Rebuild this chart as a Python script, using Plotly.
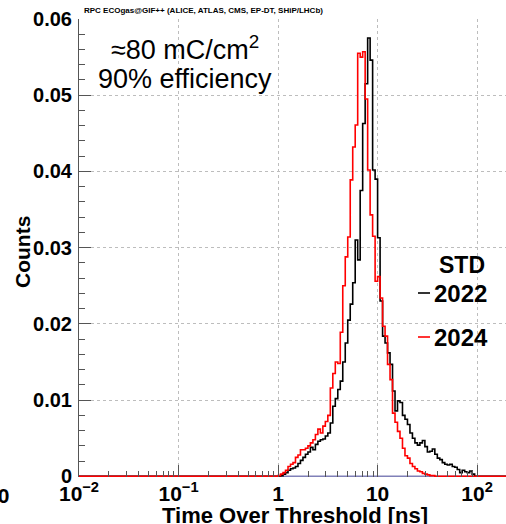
import numpy as np
import plotly.graph_objects as go

# ---- data ----
n_bins = 80
bin_edges = np.logspace(0, 2, n_bins + 1)  # log-spaced bins from 1 ns to 100 ns

counts_2024 = [
    0.0001, 0.0003, 0.0005, 0.0008, 0.0013, 0.0016, 0.0018, 0.0025, 0.0028, 0.0035,
    0.0035, 0.0037, 0.0040, 0.0044, 0.0048, 0.0055, 0.0062, 0.0057, 0.0066, 0.0072,
    0.0080, 0.0116, 0.0135, 0.0150, 0.0148, 0.0189, 0.0250, 0.0288, 0.0314, 0.0389,
    0.0432, 0.0461, 0.0555, 0.0550, 0.0557, 0.0495, 0.0402, 0.0343, 0.0315, 0.0256,
    0.0262, 0.0234, 0.0197, 0.0184, 0.0147, 0.0127, 0.0083, 0.0071, 0.0059, 0.0050,
    0.0037, 0.0027, 0.0024, 0.0017, 0.0013, 0.0010, 0.0007, 0.0006, 0.0004, 0.0003,
    0.0002, 0.0001, 0.0001, 0.0, 0.0, 0.0, 0.0, 0.0, 0.0, 0.0,
    0.0, 0.0, 0.0, 0.0, 0.0, 0.0, 0.0, 0.0, 0.0, 0.0,
]
counts_2022 = [
    0.0, 0.0001, 0.0003, 0.0005, 0.0008, 0.0010, 0.0011, 0.0013, 0.0017, 0.0021,
    0.0025, 0.0029, 0.0032, 0.0038, 0.0035, 0.0042, 0.0046, 0.0048, 0.0049, 0.0053,
    0.0057, 0.0070, 0.0092, 0.0102, 0.0114, 0.0125, 0.0150, 0.0175, 0.0205, 0.0226,
    0.0254, 0.0310, 0.0284, 0.0375, 0.0463, 0.0515, 0.0575, 0.0546, 0.0402, 0.0390,
    0.0313, 0.0230, 0.0184, 0.0175, 0.0162, 0.0147, 0.0112, 0.0086, 0.0099, 0.0097,
    0.0080, 0.0075, 0.0068, 0.0057, 0.0050, 0.0044, 0.0041, 0.0044, 0.0047, 0.0039,
    0.0032, 0.0033, 0.0036, 0.0029, 0.0024, 0.0022, 0.0018, 0.0016, 0.0015, 0.0016,
    0.0013, 0.0012, 0.0009, 0.0005, 0.0008, 0.0006, 0.0005, 0.0007, 0.0003, 0.0,
]

x_min, x_max = 0.01, 200.0
x_tick_vals = [0.01, 0.1, 1, 10, 100]
x_tick_text = ["10<sup>\u22122</sup>", "10<sup>\u22121</sup>", "1", "10", "10<sup>2</sup>"]
y_tick_vals = [0, 0.01, 0.02, 0.03, 0.04, 0.05, 0.06]
y_tick_text = ["0", "0.01", "0.02", "0.03", "0.04", "0.05", "0.06"]

series_names = ["2022", "2024"]
series_colors = ["#000000", "#ff0000"]

title_text = "RPC ECOgas@GIF++ (ALICE, ATLAS, CMS, EP-DT, SHiP/LHCb)"
note_line1 = "\u224880 mC/cm<sup>2</sup>"
note_line2 = "90% efficiency"
legend_header = "STD"

# ---- figure ----
W, H = 506, 524
ML, MR, MT, MB = 79, 0, 19, 47
PW, PH = W - ML - MR, H - MT - MB
FONT = "Liberation Sans"


def px2paper(px, py):
    return (px - ML) / PW, (H - MB - py) / PH


def step_xy(counts):
    xs = [x_min] + list(bin_edges) + [x_max]
    ys = [0.0] + list(counts) + [0.0, 0.0]
    return xs, ys


fig = go.Figure()

# baseline drawn under the histograms
fig.add_trace(go.Scatter(x=[x_min, x_max], y=[0, 0], mode="lines",
                         line=dict(color="#8080b8", width=1.6), hoverinfo="skip",
                         showlegend=False))

for name, counts, color in zip(series_names, [counts_2022, counts_2024], series_colors):
    xs, ys = step_xy(counts)
    fig.add_trace(go.Scatter(x=xs, y=ys, mode="lines", name=name,
                             line=dict(color=color, width=1.6, shape="hv"),
                             showlegend=False))

minor_x = [k * 10.0 ** d for d in range(-2, 3) for k in range(2, 10) if k * 10.0 ** d < 195]

fig.update_xaxes(type="log", range=[np.log10(x_min), np.log10(195.0)], automargin=False,
                 tickmode="array", tickvals=x_tick_vals, ticktext=x_tick_text,
                 ticks="inside", ticklen=12, tickcolor="#555555", tickwidth=1,
                 tickfont=dict(family=FONT, size=21, color="black", weight="bold"),
                 showline=False, zeroline=False,
                 showgrid=True, gridcolor="#bdbdbd", griddash="3px,3px", gridwidth=1,
                 minor=dict(tickmode="array", tickvals=minor_x, ticks="inside",
                            ticklen=6, tickcolor="#555555", showgrid=False),
                 ticklabelstandoff=2)

fig.update_yaxes(range=[-0.00008, 0.06], automargin=False, tickmode="array",
                 tickvals=y_tick_vals, ticktext=y_tick_text, ticks="inside", ticklen=12,
                 tickcolor="#555555",
                 tickfont=dict(family=FONT, size=20, color="black", weight="bold"),
                 showline=True, linecolor="#555555", linewidth=1, zeroline=False,
                 showgrid=True, gridcolor="#bdbdbd", griddash="3px,3px", gridwidth=1,
                 minor=dict(dtick=0.002, ticks="inside", ticklen=6, tickcolor="#555555",
                            showgrid=False),
                 ticklabelstandoff=2)

ann = []
x, y = px2paper(82, 10)
ann.append(dict(text=title_text, x=x, y=y, xanchor="left", yanchor="middle",
                font=dict(family=FONT, size=8, color="black", weight="bold")))
x, y = px2paper(185, 48)
ann.append(dict(text=note_line1, x=x, y=y, xanchor="center", yanchor="middle",
                font=dict(family=FONT, size=27, color="black")))
x, y = px2paper(185, 79)
ann.append(dict(text=note_line2, x=x, y=y, xanchor="center", yanchor="middle",
                font=dict(family=FONT, size=27, color="black")))
x, y = px2paper(462, 265)
ann.append(dict(text=legend_header, x=x, y=y, xanchor="center", yanchor="middle",
                font=dict(family=FONT, size=23, color="black", weight="bold")))
legend_rows = [293, 337]
shapes = []
for name, color, row in zip(series_names, series_colors, legend_rows):
    x, y = px2paper(432, row)
    ann.append(dict(text=name, x=x, y=y, xanchor="left", yanchor="middle",
                    font=dict(family=FONT, size=24, color="black", weight="bold")))
    x0, y0 = px2paper(418, row)
    x1, _ = px2paper(430, row)
    shapes.append(dict(type="line", xref="paper", yref="paper", x0=x0, x1=x1, y0=y0, y1=y0,
                       line=dict(color=color, width=1.6)))
x, y = px2paper(22, 252)
ann.append(dict(text="Counts", x=x, y=y, xanchor="center", yanchor="middle", textangle=-90,
                font=dict(family=FONT, size=21, color="black", weight="bold")))
x, y = px2paper(295, 515)
ann.append(dict(text="Time Over Threshold [ns]", x=x, y=y, xanchor="center", yanchor="middle",
                font=dict(family=FONT, size=22, color="black", weight="bold")))
x, y = px2paper(11, 496)
ann.append(dict(text="00", x=x, y=y, xanchor="right", yanchor="middle",
                font=dict(family=FONT, size=21, color="black", weight="bold")))
for a in ann:
    a.update(xref="paper", yref="paper", showarrow=False)

fig.update_layout(width=W, height=H, margin=dict(l=ML, r=MR, t=MT, b=MB, pad=0),
                  paper_bgcolor="white", plot_bgcolor="white",
                  annotations=ann, shapes=shapes, showlegend=False)

# remove the default page margin so the figure sits at the window's top-left corner
fig.write_html("out.html", config={"displayModeBar": False},
               post_script="document.body.style.margin='0';document.body.style.overflow='hidden';")
